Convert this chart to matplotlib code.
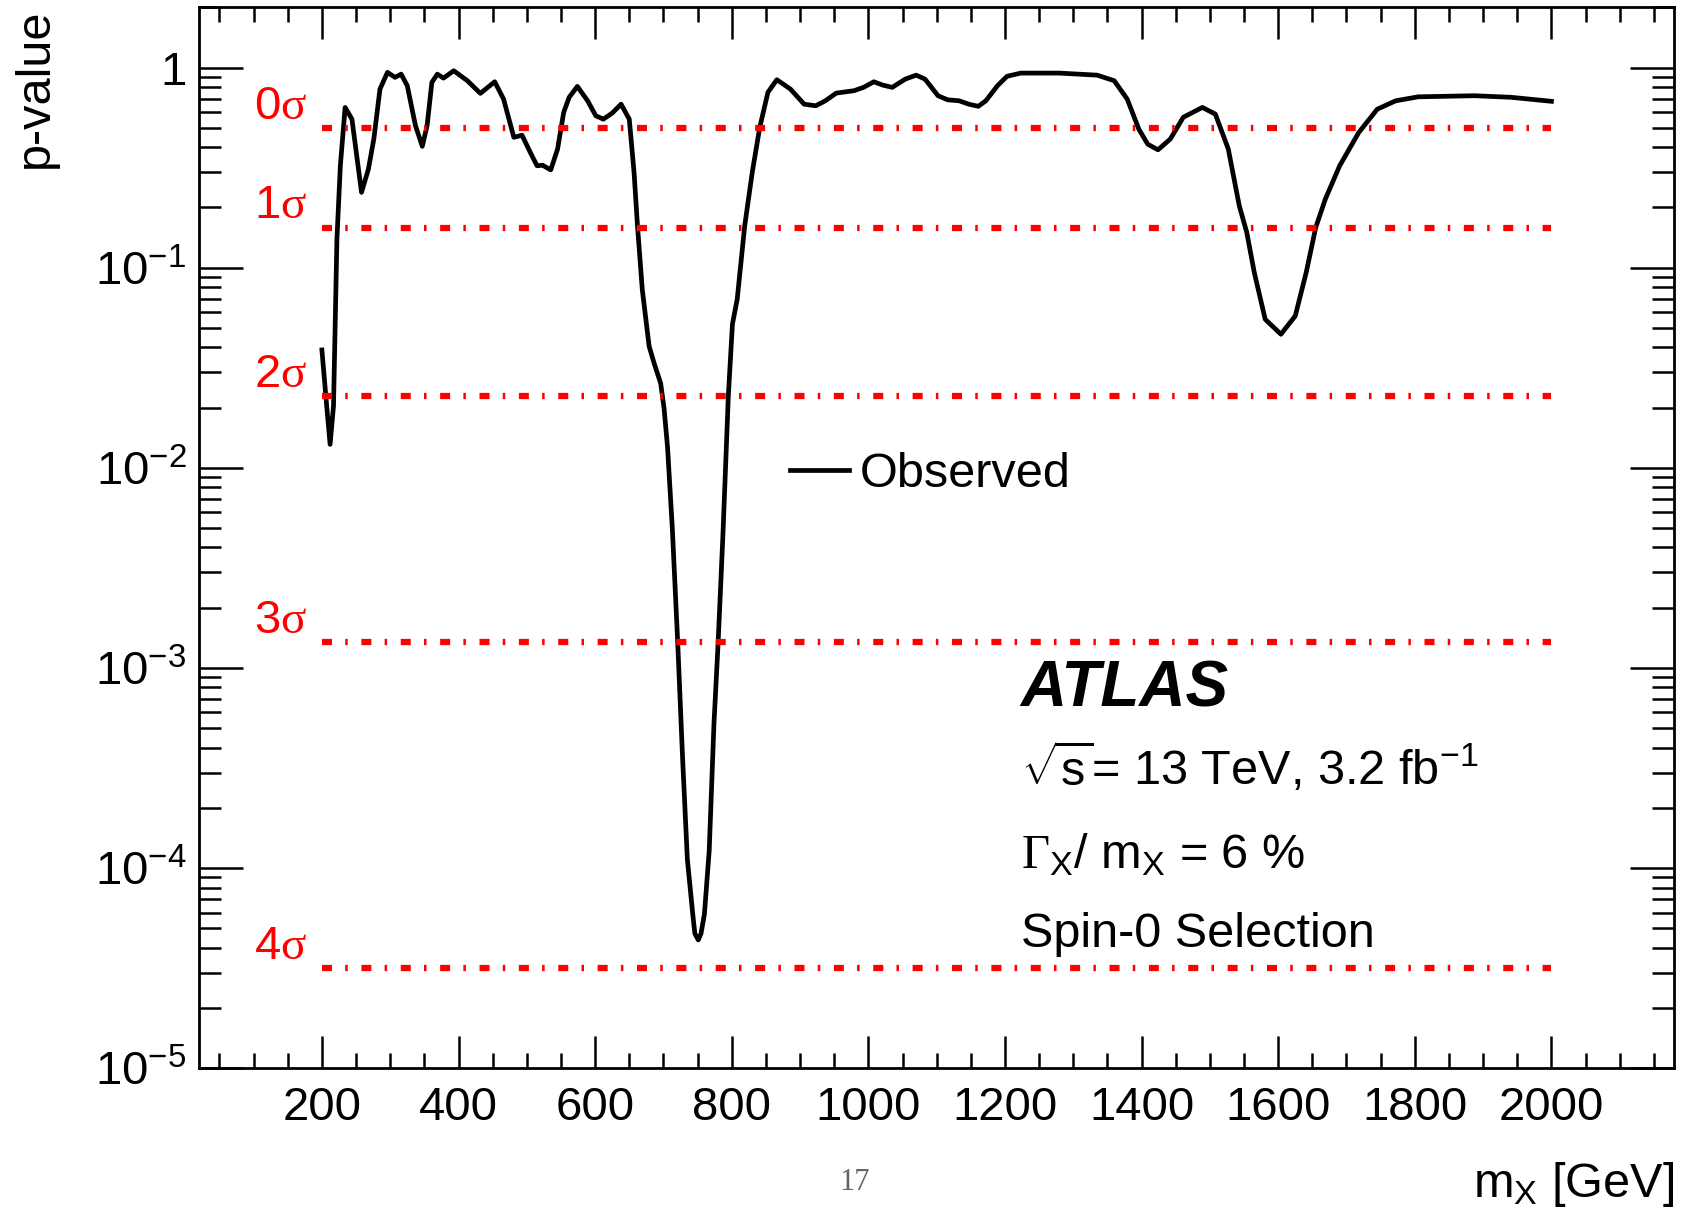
import numpy as np
import matplotlib.pyplot as plt
from matplotlib.ticker import MultipleLocator, FixedLocator, LogLocator, FuncFormatter

plt.rcParams['font.family'] = ['Liberation Sans', 'DejaVu Sans']
plt.rcParams['mathtext.fontset'] = 'custom'
plt.rcParams['mathtext.rm'] = 'Liberation Sans'
plt.rcParams['mathtext.it'] = 'Liberation Sans:italic'
plt.rcParams['mathtext.bf'] = 'Liberation Sans:bold'
plt.rcParams['mathtext.sf'] = 'Liberation Sans'
# serif font for the greek letters (like ROOT's #sigma / #Gamma)
plt.rcParams['mathtext.tt'] = 'Liberation Serif'

# observed local p-value vs mass
mass = [200, 207, 212, 217, 222, 227, 234, 244, 251, 258,
        268, 276, 285, 296, 307, 316, 325, 337, 347, 354,
        361, 369, 378, 393, 413, 432, 453, 466, 481, 493,
        505, 515, 523, 535, 545, 554, 562, 574, 589, 601,
        612, 625, 638, 650, 657, 662, 669, 679, 686, 696,
        701, 706, 713, 721, 728, 735, 743, 746, 751, 755, 760, 767,
        774, 780, 787, 795, 801, 808, 819, 830, 841, 853,
        866, 886, 906, 923, 937, 953, 979, 993, 1008, 1021,
        1035, 1054, 1070, 1083, 1102, 1116, 1133, 1147, 1161, 1172,
        1189, 1203, 1223, 1279, 1335, 1360, 1379, 1396, 1409, 1424,
        1442, 1461, 1489, 1508, 1527, 1543, 1554, 1565, 1581, 1604,
        1625, 1641, 1655, 1669, 1690, 1718, 1745, 1772, 1805, 1887,
        1941, 2000]
pvalue = [0.0388, 0.0204, 0.0131, 0.0204, 0.139, 0.323, 0.632, 0.552, 0.362, 0.238,
          0.310, 0.439, 0.780, 0.946, 0.893, 0.927, 0.811, 0.512, 0.404, 0.512,
          0.843, 0.927, 0.885, 0.964, 0.859, 0.743, 0.849, 0.695, 0.448, 0.459,
          0.377, 0.323, 0.325, 0.308, 0.391, 0.597, 0.710, 0.805, 0.682, 0.574,
          0.552, 0.592, 0.656, 0.552, 0.299, 0.162, 0.0780, 0.0406, 0.0336, 0.0264,
          0.0197, 0.0127, 0.00500, 0.00132, 3.57e-4, 1.11e-4, 5.86e-5, 4.71e-5, 4.38e-5, 4.71e-5,
          5.89e-5, 1.22e-4,
          5.28e-4, 1.32e-3, 4.54e-3, 0.0228, 0.0522, 0.0695, 0.162, 0.299, 0.502, 0.752,
          0.869, 0.780, 0.656, 0.644, 0.682, 0.745, 0.766, 0.796, 0.849, 0.817,
          0.796, 0.875, 0.916, 0.875, 0.723, 0.690, 0.682, 0.656, 0.640, 0.682,
          0.811, 0.904, 0.938, 0.938, 0.916, 0.859, 0.695, 0.492, 0.414, 0.388,
          0.439, 0.564, 0.632, 0.585, 0.391, 0.204, 0.150, 0.0946, 0.0552, 0.0465,
          0.0574, 0.0946, 0.159, 0.220, 0.323, 0.474, 0.619, 0.682, 0.714, 0.723,
          0.710, 0.678]

sigma_labels = ['0', '1', '2', '3', '4']
sigma_pvalues = [0.5, 0.1587, 0.02275, 0.00135, 3.17e-5]

fig = plt.figure(figsize=(16.86, 12.13), dpi=100)
ax = fig.add_axes([0.1180, 0.1193, 0.8751, 0.8747])

ax.plot(mass, pvalue, color='black', lw=3.4, label='Observed', zorder=2,
        solid_joinstyle='round')

for lab, p in zip(sigma_labels, sigma_pvalues):
    ax.plot([mass[0], mass[-1]], [p, p], color='red', lw=4.5,
            dashes=(1.6, 2.12, 0.4, 2.18), dash_capstyle='butt', zorder=3)
    ax.text(100, p * 1.11, r'$\mathrm{%s}\mathtt{\sigma}$' % lab, color='red',
            fontsize=34, ha='left', va='baseline')

ax.set_yscale('log')
ax.set_xlim(20, 2180)
ax.set_ylim(1e-5, 2)

ax.xaxis.set_major_locator(MultipleLocator(200))
ax.xaxis.set_minor_locator(MultipleLocator(50))
ax.yaxis.set_major_locator(FixedLocator([1e-5, 1e-4, 1e-3, 1e-2, 1e-1, 1]))
ax.yaxis.set_minor_locator(LogLocator(base=10, subs=np.arange(2, 10), numticks=30))


def ylab(v, pos):
    e = int(round(np.log10(v)))
    if e == 0:
        return '1'
    return r'$\mathregular{10^{%d}}$' % e


ax.yaxis.set_major_formatter(FuncFormatter(ylab))

ax.tick_params(which='both', direction='in', top=True, right=True, width=1.8, labelsize=34)
ax.tick_params(axis='x', which='major', length=23, pad=13)
ax.tick_params(axis='x', which='minor', length=11)
ax.tick_params(axis='y', which='major', length=31.7, pad=9)
ax.tick_params(axis='y', which='minor', length=15.8)
for s in ax.spines.values():
    s.set_linewidth(2)

ax.legend(loc='center left', bbox_to_anchor=(0.4006, 0.5599), frameon=False, fontsize=35,
          handlelength=1.22, handletextpad=0.22, borderpad=0, borderaxespad=0)

ax.text(0.557, 0.341, 'ATLAS', transform=ax.transAxes, fontsize=46,
        fontweight='bold', fontstyle='italic', va='baseline')
ax.text(0.557, 0.267, r'$\sqrt{\mathrm{s}}$= 13 TeV, 3.2 fb$^{\mathrm{-1}}$',
        transform=ax.transAxes, fontsize=35, va='baseline')
ax.text(0.557, 0.1885, r'$\mathtt{\Gamma}_{\mathrm{X}}$/ m$_{\mathrm{X}}$ = 6 %',
        transform=ax.transAxes, fontsize=35, va='baseline')
ax.text(0.557, 0.1146, 'Spin-0 Selection', transform=ax.transAxes, fontsize=35, va='baseline')

fig.text(0.9931, 0.0132, r'm$_{\mathrm{X}}$ [GeV]', ha='right', va='baseline', fontsize=35)
fig.text(0.0285, 0.993, 'p-value', rotation=90, rotation_mode='anchor',
         ha='right', va='baseline', fontsize=35)

# page number
fig.text(0.507, 0.019, '17', family='Liberation Serif', color='#666666', fontsize=22,
         ha='center', va='baseline')

fig.savefig('out.png', dpi=100)
